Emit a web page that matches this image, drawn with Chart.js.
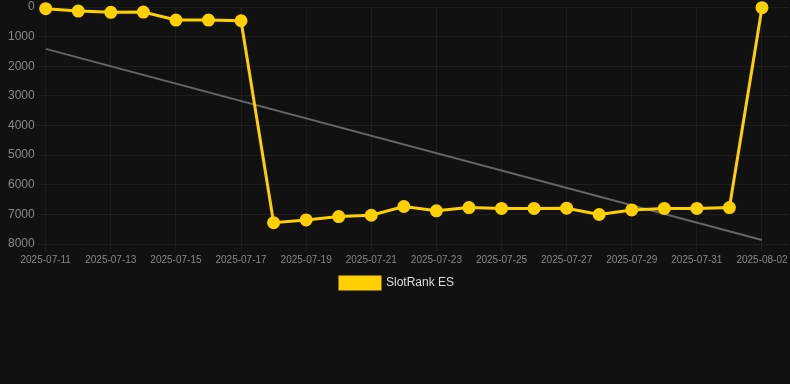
<!DOCTYPE html>
<html>
<head>
<meta charset="utf-8">
<script src="https://cdn.jsdelivr.net/npm/chart.js@4.4.1/dist/chart.umd.min.js"></script>
<style>
  html, body { margin: 0; padding: 0; background: #111111; }
  #wrap { width: 790px; height: 299px; position: relative; }
</style>
</head>
<body>
<div id="wrap"><canvas id="c"></canvas></div>
<script>
const dates = ["2025-07-11","2025-07-12","2025-07-13","2025-07-14","2025-07-15","2025-07-16","2025-07-17","2025-07-18","2025-07-19","2025-07-20","2025-07-21","2025-07-22","2025-07-23","2025-07-24","2025-07-25","2025-07-26","2025-07-27","2025-07-28","2025-07-29","2025-07-30","2025-07-31","2025-08-01","2025-08-02"];
const rankES = [56,136,180,170,440,440,464,7280,7186,7075,7030,6735,6880,6770,6800,6800,6790,7005,6850,6800,6800,6770,24];
const trendStart = 1413;
const trendEnd = 7864;
const yTicks = [0,1000,2000,3000,4000,5000,6000,7000,8000];

const mainPts = rankES.map((v, i) => ({x: i, y: v}));
const trendPts = [{x: 0, y: trendStart}, {x: dates.length - 1, y: trendEnd}];

Chart.defaults.font.family = "'Liberation Sans', Arial, sans-serif";

new Chart(document.getElementById('c'), {
  type: 'line',
  data: {
    datasets: [
      {
        label: 'SlotRank ES',
        data: mainPts,
        borderColor: '#FFD000',
        backgroundColor: '#FFD000',
        borderWidth: 3,
        pointRadius: 5,
        pointHoverRadius: 5,
        pointBackgroundColor: '#FFD000',
        pointBorderColor: '#FFD000',
        tension: 0,
        clip: false
      },
      {
        label: 'trend',
        data: trendPts,
        borderColor: '#666666',
        borderWidth: 2,
        pointRadius: 0,
        fill: false,
        tension: 0
      }
    ]
  },
  options: {
    responsive: true,
    maintainAspectRatio: false,
    animation: false,
    layout: { autoPadding: false, padding: { left: 5, right: 1, top: 7, bottom: 0 } },
    plugins: {
      legend: {
        position: 'bottom',
        labels: {
          color: '#dddddd',
          font: { size: 12 },
          boxWidth: 40,
          padding: 9,
          filter: (item) => item.text !== 'trend'
        }
      },
      tooltip: { enabled: false }
    },
    scales: {
      x: {
        type: 'linear',
        bounds: 'data',
        min: 0,
        max: 22.83,
        afterFit: (axis) => { axis.paddingLeft = 0; axis.paddingRight = 0; },
        ticks: {
          stepSize: 2,
          includeBounds: false,
          autoSkip: false,
          maxRotation: 0,
          padding: 2,
          color: '#888888',
          font: { size: 10 },
          callback: (v) => dates[v] || ''
        },
        grid: { color: 'rgba(255,255,255,0.05)' },
        border: { display: false }
      },
      y: {
        reverse: true,
        min: yTicks[0],
        max: yTicks[yTicks.length - 1],
        afterBuildTicks: (axis) => { axis.ticks = yTicks.map(v => ({value: v})); },
        afterFit: (axis) => { axis.paddingTop = 0; axis.paddingBottom = 0; },
        ticks: {
          color: '#888888',
          font: { size: 12 },
          padding: 3,
          callback: (v) => String(v)
        },
        grid: { color: 'rgba(255,255,255,0.05)' },
        border: { display: false }
      }
    }
  }
});
</script>
</body>
</html>
